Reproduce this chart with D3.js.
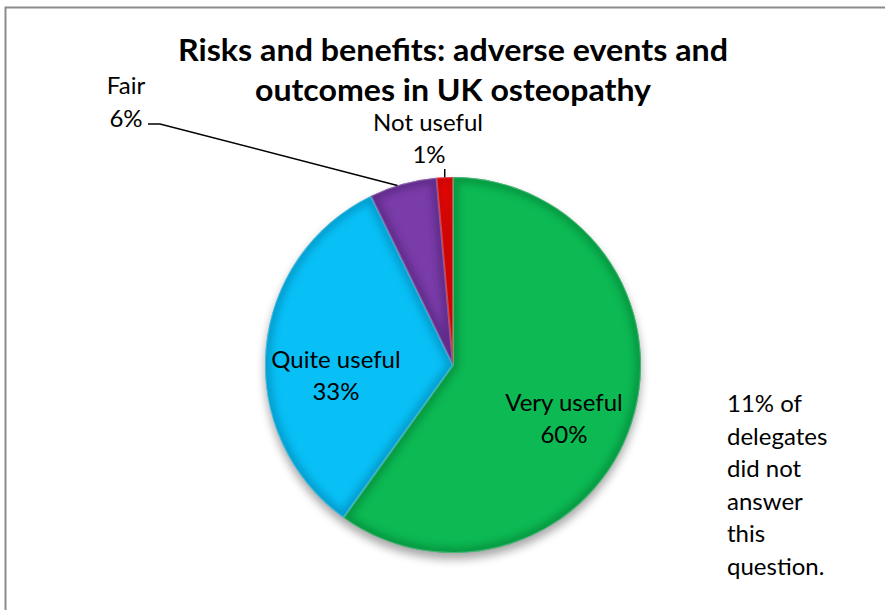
<!DOCTYPE html>
<html>
<head>
<meta charset="utf-8">
<script src="https://cdn.jsdelivr.net/npm/d3@7"></script>
<style>
  html, body { margin: 0; padding: 0; background: #fff; }
  svg { display: block; }
  text { font-family: Lato, "Open Sans", sans-serif; fill: #000; }
</style>
</head>
<body>
<svg id="chart" width="885" height="610"></svg>
<script>
// ---- data ----
const categories = ["Very useful", "Quite useful", "Fair", "Not useful"];
const values = [59.9, 32.9, 5.8, 1.4];
const percentLabels = ["60%", "33%", "6%", "1%"];
const colors = ["#0cb953", "#08bff6", "#7a3ca8", "#fe0a0a"];
const darkColors = ["#047a33", "#0680a8", "#4a1f70", "#a00000"];
const titleLines = ["Risks and benefits: adverse events and", "outcomes in UK osteopathy"];
const noteLines = ["11% of", "delegates", "did not", "answer", "this", "question."];

const svg = d3.select("#chart");
const defs = svg.append("defs");

// border
svg.append("path")
  .attr("d", "M5.5,610 L5.5,7.5 L885,7.5")
  .attr("fill", "none").attr("stroke", "#8c8c8c").attr("stroke-width", 2);

// title
svg.append("g").selectAll("text").data(titleLines).join("text")
  .attr("x", 453).attr("y", (d, i) => 61 + i * 40)
  .attr("text-anchor", "middle")
  .attr("font-weight", "bold").attr("font-size", 30)
  .attr("textLength", (d, i) => i === 0 ? 550 : 396)
  .attr("lengthAdjust", "spacingAndGlyphs")
  .text(d => d);

// pie
const cx = 453, cy = 365, r = 188;
const pie = d3.pie().sort(null).value(d => d)(values);
const arc = d3.arc().innerRadius(0).outerRadius(r);

defs.append("filter").attr("id", "shadow").attr("x", "-20%").attr("y", "-20%").attr("width", "140%").attr("height", "140%")
  .append("feGaussianBlur").attr("stdDeviation", 5);
defs.append("filter").attr("id", "soft").attr("x", "-20%").attr("y", "-20%").attr("width", "140%").attr("height", "140%")
  .append("feGaussianBlur").attr("stdDeviation", 3.5);

const g = svg.append("g").attr("transform", `translate(${cx},${cy})`);

// drop shadow
g.append("circle").attr("cx", 0).attr("cy", 6).attr("r", r)
  .attr("fill", "#000").attr("opacity", 0.35).attr("filter", "url(#shadow)");

pie.forEach((p, i) => {
  const path = arc(p);
  defs.append("clipPath").attr("id", "clip" + i).append("path").attr("d", path);
  g.append("path").attr("d", path).attr("fill", colors[i]);
  // bevel shading near edges
  g.append("g").attr("clip-path", `url(#clip${i})`)
    .append("path").attr("d", path)
    .attr("fill", "none").attr("stroke", darkColors[i])
    .attr("stroke-width", 12).attr("opacity", 0.5)
    .attr("filter", "url(#soft)");
  g.append("g").attr("clip-path", `url(#clip${i})`)
    .append("path").attr("d", path)
    .attr("fill", "none").attr("stroke", "#fff")
    .attr("stroke-width", 2).attr("opacity", 0.25);
});

// inside labels
const inside = [
  { i: 0, x: 564, y: 411 },
  { i: 1, x: 336, y: 368 }
];
inside.forEach(o => {
  const t = svg.append("text").attr("text-anchor", "middle").attr("font-size", 24);
  t.append("tspan").attr("x", o.x).attr("y", o.y).text(categories[o.i]);
  t.append("tspan").attr("x", o.x).attr("y", o.y + 32).text(percentLabels[o.i]);
});

// outside labels with leaders
const fairLbl = svg.append("text").attr("text-anchor", "middle").attr("font-size", 24);
fairLbl.append("tspan").attr("x", 126).attr("y", 94).text(categories[2]);
fairLbl.append("tspan").attr("x", 126).attr("y", 127).text(percentLabels[2]);
const fa = (pie[2].startAngle + pie[2].endAngle) / 2 - 0.03;
const fairEdge = [Math.sin(fa) * r, -Math.cos(fa) * r];
svg.append("path")
  .attr("d", `M148,124 L160,124 L${cx + fairEdge[0]},${cy + fairEdge[1]}`)
  .attr("fill", "none").attr("stroke", "#000").attr("stroke-width", 1.5);

const nuLbl = svg.append("text").attr("text-anchor", "middle").attr("font-size", 24);
nuLbl.append("tspan").attr("x", 428).attr("y", 131).text(categories[3]);
nuLbl.append("tspan").attr("x", 429).attr("y", 163).text(percentLabels[3]);
const nuAng = (pie[3].startAngle + pie[3].endAngle) / 2;
const nux = cx + Math.sin(nuAng) * r;
svg.append("line").attr("x1", nux).attr("x2", nux).attr("y1", 169).attr("y2", cy - Math.cos(nuAng) * r)
  .attr("stroke", "#000").attr("stroke-width", 1.5);

// note
svg.append("g").selectAll("text").data(noteLines).join("text")
  .attr("x", 727).attr("y", (d, i) => 412 + i * 32.6)
  .attr("font-size", 24)
  .text(d => d);
</script>
</body>
</html>
